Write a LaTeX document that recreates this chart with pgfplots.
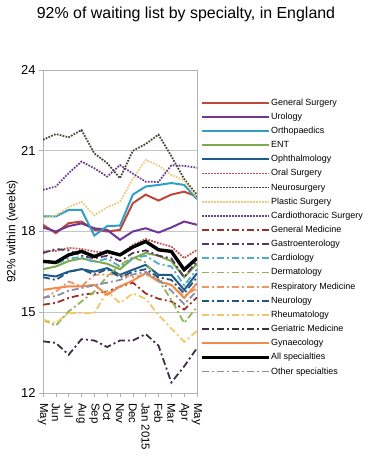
\documentclass[border=0pt]{standalone}
\usepackage{fontspec}
\setmainfont{Liberation Sans}
\usepackage{pgfplots}
\usepackage{pgfplotstable}
\pgfplotsset{compat=1.18}
\definecolor{cGS}{RGB}{192,70,55}
\definecolor{cUro}{RGB}{112,55,150}
\definecolor{cOrt}{RGB}{45,160,200}
\definecolor{cENT}{RGB}{125,170,75}
\definecolor{cOph}{RGB}{30,90,140}
\definecolor{cOral}{RGB}{192,80,77}
\definecolor{cNeu}{RGB}{70,70,55}
\definecolor{cPla}{RGB}{240,200,125}
\definecolor{cCar}{RGB}{105,65,145}
\definecolor{cGM}{RGB}{155,50,40}
\definecolor{cGas}{RGB}{85,55,95}
\definecolor{cCdl}{RGB}{80,172,200}
\definecolor{cDer}{RGB}{145,180,85}
\definecolor{cRes}{RGB}{240,150,100}
\definecolor{cNrl}{RGB}{35,85,125}
\definecolor{cRhe}{RGB}{240,200,105}
\definecolor{cGer}{RGB}{65,45,75}
\definecolor{cGyn}{RGB}{240,140,80}
\definecolor{cOth}{RGB}{140,140,165}
\pgfplotstableread{
m GS Uro Ort ENT Oph Oral Neu Pla Car GM Gas Cdl Der Res Nrl Rhe Ger Gyn All Oth
0 18.25 18.15 18.56 16.60 16.39 17.26 21.41 18.50 19.55 15.28 17.20 16.90 14.72 15.50 16.30 14.72 13.92 15.83 16.89 15.55
1 17.94 18.00 18.56 16.70 16.33 17.28 21.62 18.60 19.67 15.35 17.35 16.80 14.50 15.77 16.20 14.60 13.86 15.90 16.85 15.60
2 18.31 18.20 18.80 16.90 16.51 17.39 21.50 18.90 20.17 15.53 17.30 17.00 15.03 16.14 16.50 14.97 13.42 15.96 17.13 15.80
3 18.37 18.30 18.80 17.00 16.60 17.35 21.77 19.10 20.60 15.65 17.10 17.05 15.40 15.96 16.60 14.97 14.00 15.96 17.26 15.90
4 18.06 18.12 17.85 16.90 16.51 17.26 20.90 18.60 20.35 15.70 17.00 16.85 15.77 16.39 16.40 14.97 13.95 16.02 17.07 16.00
5 18.00 18.06 18.20 16.80 16.64 17.20 20.54 18.90 20.04 15.77 17.10 17.00 16.33 16.40 16.60 15.77 13.71 15.65 17.26 16.10
6 18.06 17.69 18.22 16.60 16.39 17.13 19.98 19.10 20.47 15.95 16.90 16.70 16.75 16.40 16.30 15.34 13.95 15.96 17.13 16.20
7 19.05 18.00 19.37 17.00 16.58 17.50 21.00 19.95 20.15 16.10 17.20 17.00 17.05 16.30 16.50 15.70 13.95 16.18 17.42 16.40
8 19.37 18.12 19.67 17.20 16.76 17.72 21.25 20.66 19.85 15.70 17.30 17.10 16.85 16.40 16.60 15.50 14.19 16.45 17.63 16.50
9 19.15 17.96 19.73 17.10 16.39 17.57 21.60 20.45 19.84 15.50 17.10 16.80 16.20 16.20 16.30 14.90 13.76 16.14 17.32 16.20
10 19.37 18.15 19.80 16.90 16.39 17.44 20.80 20.10 20.46 15.40 17.00 16.70 15.46 16.00 16.20 14.40 12.39 16.02 17.26 15.80
11 19.48 18.37 19.73 16.30 15.83 17.01 19.95 19.90 20.44 15.10 16.30 16.00 14.60 15.60 15.70 13.90 12.99 15.53 16.58 15.30
12 19.30 18.25 19.20 16.80 16.45 17.32 19.36 19.25 20.37 15.55 16.90 16.60 15.20 15.90 16.30 14.30 13.67 16.08 17.01 15.80
}\data
\pgfplotsset{
  sol/.style={line width=2bp, #1},
  dot/.style={line width=1.8bp, dash pattern=on 1.7bp off 1.3bp, #1},
  dsh/.style={line width=1.8bp, dash pattern=on 7bp off 3bp on 2bp off 3bp, #1},
}
\begin{document}
\begin{tikzpicture}[x=1bp,y=1bp]
\path[use as bounding box] (0bp,0bp) rectangle (372bp,459bp);
\node[font=\fontsize{16}{18}\selectfont, anchor=base] at (186bp,440.5bp) {92\% of waiting list by specialty, in England};
\begin{axis}[
  at={(43bp,66bp)}, anchor=south west,
  width=154bp, height=323bp, scale only axis,
  /pgf/number format/assume math mode=true,
  xmin=0, xmax=12, ymin=12, ymax=24,
  xtick={0,...,12},
  xticklabels={May,Jun,Jul,Aug,Sep,Oct,Nov,Dec,Jan 2015,Feb,Mar,Apr,May},
  ytick={12,15,18,21,24},
  ymajorgrids, grid style={gray!45, line width=0.6bp},
  axis line style={gray!60, line width=0.6bp},
  tick style={gray!60, line width=0.6bp},
  tick align=outside, tick pos=left, major tick length=4bp,
  xticklabel shift={5bp},
  x tick label style={rotate=-90, anchor=west, font=\fontsize{11.5}{12}\selectfont, inner sep=1bp},
  y tick label style={font=\fontsize{13}{14}\selectfont},
  ylabel={92\% within (weeks)},
  ylabel style={font=\fontsize{12}{13}\selectfont, anchor=center, at={(axis description cs:-0.2,0.5)}},
  legend cell align=left,
  legend image code/.code={\draw[#1] (0bp,0bp) -- (67bp,0bp);},
  legend style={draw=none, fill=none, at={(axis description cs:1,0.915)}, anchor=north west,
    inner xsep=3bp, inner ysep=0bp, row sep=4.15bp,
    font=\fontsize{9}{10}\selectfont,
    nodes={inner sep=0.5bp, text height=7bp, text depth=2bp}},
]
\addplot[sol=cGS] table[x=m,y=GS]{\data}; \addlegendentry{General Surgery}
\addplot[sol=cUro] table[x=m,y=Uro]{\data}; \addlegendentry{Urology}
\addplot[sol=cOrt] table[x=m,y=Ort]{\data}; \addlegendentry{Orthopaedics}
\addplot[sol=cENT] table[x=m,y=ENT]{\data}; \addlegendentry{ENT}
\addplot[sol=cOph] table[x=m,y=Oph]{\data}; \addlegendentry{Ophthalmology}
\addplot[dot=cOral] table[x=m,y=Oral]{\data}; \addlegendentry{Oral Surgery}
\addplot[dot=cNeu] table[x=m,y=Neu]{\data}; \addlegendentry{Neurosurgery}
\addplot[dot=cPla] table[x=m,y=Pla]{\data}; \addlegendentry{Plastic Surgery}
\addplot[dot=cCar] table[x=m,y=Car]{\data}; \addlegendentry{Cardiothoracic Surgery}
\addplot[dsh=cGM] table[x=m,y=GM]{\data}; \addlegendentry{General Medicine}
\addplot[dsh=cGas] table[x=m,y=Gas]{\data}; \addlegendentry{Gastroenterology}
\addplot[dsh=cCdl] table[x=m,y=Cdl]{\data}; \addlegendentry{Cardiology}
\addplot[dsh=cDer] table[x=m,y=Der]{\data}; \addlegendentry{Dermatology}
\addplot[dsh=cRes] table[x=m,y=Res]{\data}; \addlegendentry{Respiratory Medicine}
\addplot[dsh=cNrl] table[x=m,y=Nrl]{\data}; \addlegendentry{Neurology}
\addplot[dsh=cRhe] table[x=m,y=Rhe]{\data}; \addlegendentry{Rheumatology}
\addplot[dsh=cGer] table[x=m,y=Ger]{\data}; \addlegendentry{Geriatric Medicine}
\addplot[sol=cGyn] table[x=m,y=Gyn]{\data}; \addlegendentry{Gynaecology}
\addplot[line width=3.4bp, black] table[x=m,y=All]{\data}; \addlegendentry{All specialties}
\addplot[dsh=cOth] table[x=m,y=Oth]{\data}; \addlegendentry{Other specialties}
\end{axis}
\end{tikzpicture}
\end{document}
